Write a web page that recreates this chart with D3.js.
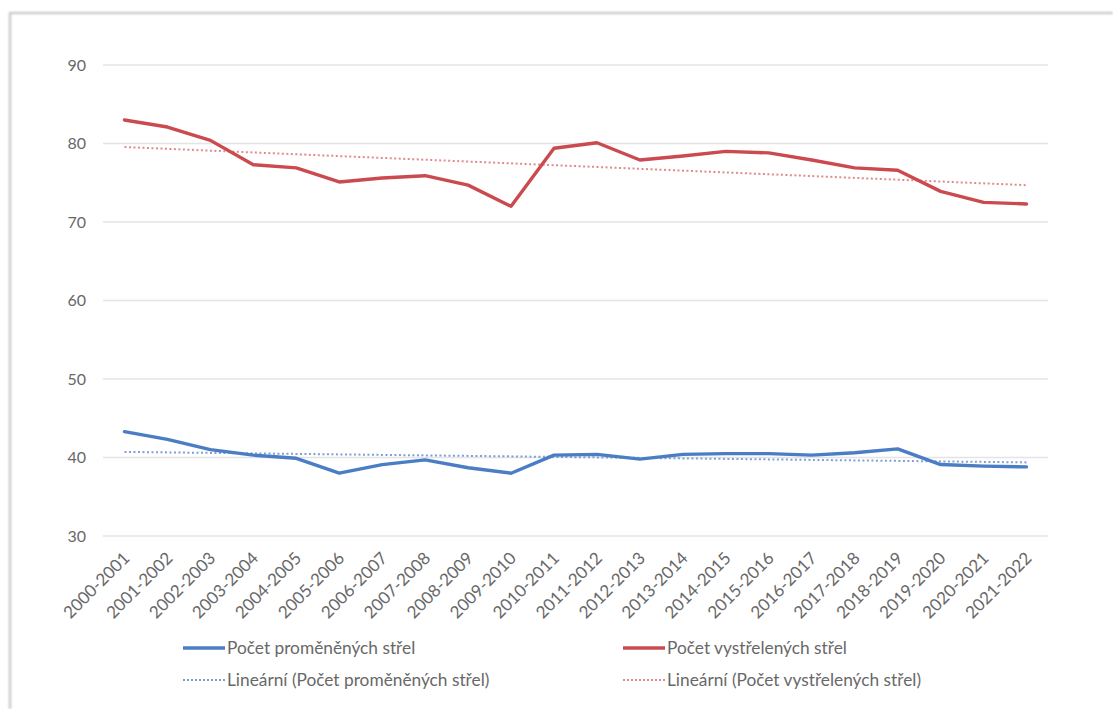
<!DOCTYPE html>
<html>
<head>
<meta charset="utf-8">
<script src="https://cdn.jsdelivr.net/npm/d3@7"></script>
<style>
  body { margin: 0; background: #fff; }
  svg { display: block; font-family: Lato, "Open Sans", sans-serif; }
  .tick-label { fill: #686868; font-size: 16px; }
  .x-label { fill: #686868; font-size: 17px; }
  .legend-label { fill: #686868; font-size: 17.3px; }
</style>
</head>
<body>
<div id="chart"></div>
<script>
const seasons = [
  '2000-2001', '2001-2002', '2002-2003', '2003-2004', '2004-2005', '2005-2006',
  '2006-2007', '2007-2008', '2008-2009', '2009-2010', '2010-2011', '2011-2012',
  '2012-2013', '2013-2014', '2014-2015', '2015-2016', '2016-2017', '2017-2018',
  '2018-2019', '2019-2020', '2020-2021', '2021-2022'
];

// Počet proměněných střel
const converted = [
  43.3, 42.3, 41.0, 40.3, 39.9, 38.0, 39.1, 39.7, 38.7, 38.0, 40.3,
  40.4, 39.8, 40.4, 40.5, 40.5, 40.3, 40.6, 41.1, 39.1, 38.9, 38.8
];

// Počet vystřelených střel
const shots = [
  83.0, 82.1, 80.4, 77.3, 76.9, 75.1, 75.6, 75.9, 74.7, 72.0, 79.4,
  80.1, 77.9, 78.4, 79.0, 78.8, 77.9, 76.9, 76.6, 73.9, 72.5, 72.3
];

const yTicks = [30, 40, 50, 60, 70, 80, 90];

const legendLabels = [
  'Počet proměněných střel',
  'Počet vystřelených střel',
  'Lineární (Počet proměněných střel)',
  'Lineární (Počet vystřelených střel)'
];

const blue = '#4a7dc4';
const red = '#cb4a50';
const blueTrend = '#7f9fd6';
const redTrend = '#e08a8d';

const width = 1113;
const height = 709;

const svg = d3.select('#chart')
  .append('svg')
  .attr('width', width)
  .attr('height', height);

// soft frame of the pasted chart image
const defs = svg.append('defs');
defs.append('filter').attr('id', 'soft')
  .append('feGaussianBlur').attr('stdDeviation', 0.8);

svg.append('path')
  .attr('d', `M10,${height} L10,13 L${width},13`)
  .attr('fill', 'none')
  .attr('stroke', '#c4c4c4')
  .attr('stroke-width', 2.2)
  .attr('filter', 'url(#soft)');

const plot = { left: 103, right: 1048, top: 65, bottom: 536 };

const xScale = d3.scaleBand()
  .domain(seasons)
  .range([plot.left, plot.right]);

const yScale = d3.scaleLinear()
  .domain([30, 90])
  .range([plot.bottom, plot.top]);

const cx = (d) => xScale(d) + xScale.bandwidth() / 2;

// gridlines
svg.append('g')
  .attr('class', 'gridlines')
  .selectAll('line')
  .data(yTicks)
  .join('line')
  .attr('x1', plot.left)
  .attr('x2', plot.right)
  .attr('y1', (d) => yScale(d))
  .attr('y2', (d) => yScale(d))
  .attr('stroke', '#e4e4e4')
  .attr('stroke-width', 1.6);

// y axis labels
svg.append('g')
  .selectAll('text')
  .data(yTicks)
  .join('text')
  .attr('class', 'tick-label')
  .attr('x', 86)
  .attr('y', (d) => yScale(d))
  .attr('dy', '0.35em')
  .attr('text-anchor', 'end')
  .text((d) => d);

// x axis labels, rotated
svg.append('g')
  .selectAll('text')
  .data(seasons)
  .join('text')
  .attr('class', 'x-label')
  .attr('text-anchor', 'end')
  .attr('transform', (d) => `translate(${cx(d) + 2}, ${plot.bottom + 19}) rotate(-45)`)
  .attr('dy', '0.35em')
  .text((d) => d);

// least squares trend, same as Excel's linear trendline
function trend(values) {
  const xs = values.map((v, i) => i);
  const mx = d3.mean(xs);
  const my = d3.mean(values);
  const slope = d3.sum(xs, (x, i) => (x - mx) * (values[i] - my)) /
    d3.sum(xs, (x) => (x - mx) * (x - mx));
  return values.map((v, i) => my + slope * (i - mx));
}

const line = d3.line()
  .x((d, i) => cx(seasons[i]))
  .y((d) => yScale(d));

const series = [
  { values: trend(converted), color: blueTrend, dotted: true },
  { values: trend(shots), color: redTrend, dotted: true },
  { values: converted, color: blue, dotted: false },
  { values: shots, color: red, dotted: false },
];

svg.append('g')
  .selectAll('path')
  .data(series)
  .join('path')
  .attr('d', (d) => line(d.values))
  .attr('fill', 'none')
  .attr('stroke', (d) => d.color)
  .attr('stroke-width', (d) => d.dotted ? 2 : 3.4)
  .attr('stroke-dasharray', (d) => d.dotted ? '2,2.5' : null)
  .attr('stroke-linejoin', 'round')
  .attr('stroke-linecap', (d) => d.dotted ? 'butt' : 'round');

// legend
const legendItems = [
  { label: legendLabels[0], color: blue, dotted: false, x: 183, y: 648 },
  { label: legendLabels[1], color: red, dotted: false, x: 623, y: 648 },
  { label: legendLabels[2], color: blueTrend, dotted: true, x: 183, y: 680 },
  { label: legendLabels[3], color: redTrend, dotted: true, x: 623, y: 680 },
];

const legend = svg.append('g').attr('class', 'legend');

const items = legend.selectAll('g')
  .data(legendItems)
  .join('g')
  .attr('transform', (d) => `translate(${d.x}, ${d.y})`);

items.append('line')
  .attr('x1', 0)
  .attr('x2', 42)
  .attr('stroke', (d) => d.color)
  .attr('stroke-width', (d) => d.dotted ? 2 : 3.4)
  .attr('stroke-dasharray', (d) => d.dotted ? '2,2' : null);

items.append('text')
  .attr('class', 'legend-label')
  .attr('x', 44)
  .attr('dy', '0.35em')
  .text((d) => d.label);
</script>
</body>
</html>
